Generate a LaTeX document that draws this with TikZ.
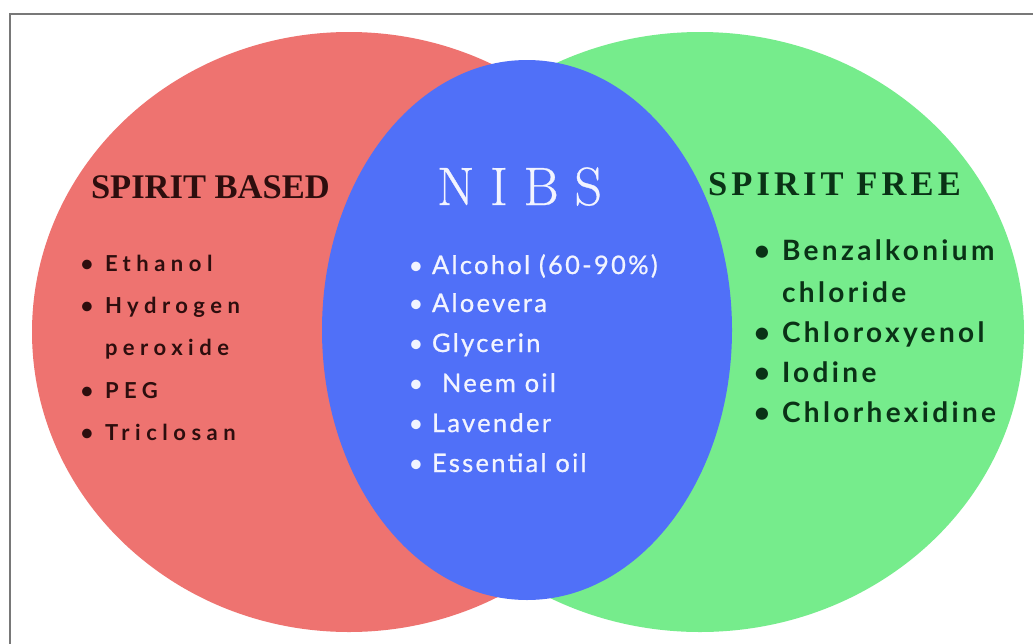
\documentclass[tikz,border=0pt]{standalone}
\usepackage{fontspec}
\newfontfamily\leftfont{Lato}[LetterSpace=25]
\newfontfamily\midfont{Lato}[LetterSpace=9,FakeBold=0.8]
\newfontfamily\rightfont{Lato}[LetterSpace=12]
\newfontfamily\bulletfont{Lato}
\newfontfamily\basedfont{Liberation Serif}[LetterSpace=0]
\newfontfamily\freefont{Liberation Serif}[LetterSpace=12]
\newfontfamily\nibsfont{Latin Modern Roman}[LetterSpace=29,FakeBold=0.6]
\definecolor{redc}{RGB}{238,115,112}
\definecolor{greenc}{RGB}{118,236,140}
\definecolor{bluec}{RGB}{80,112,248}
\definecolor{darkred}{RGB}{45,14,14}
\definecolor{darkgreen}{RGB}{10,50,22}
\definecolor{offwhite}{RGB}{242,244,255}
\definecolor{framegray}{RGB}{120,120,120}
\tikzset{
  lbl/.style={anchor=base west, inner sep=0pt, outer sep=0pt},
  bul/.style={anchor=base, inner sep=0pt, outer sep=0pt},
  litem/.style={lbl, font=\leftfont\bfseries\fontsize{22}{22}\selectfont, text=darkred},
  lbul/.style={bul, font=\bulletfont\bfseries\fontsize{22}{22}\selectfont, text=darkred},
  mitem/.style={lbl, font=\midfont\fontsize{25.5}{25.5}\selectfont, text=offwhite},
  mbul/.style={bul, font=\bulletfont\fontsize{25.5}{25.5}\selectfont, text=offwhite},
  ritem/.style={lbl, font=\rightfont\bfseries\fontsize{28}{28}\selectfont, text=darkgreen},
  rbul/.style={bul, font=\bulletfont\bfseries\fontsize{28}{28}\selectfont, text=darkgreen},
}
\begin{document}
\begin{tikzpicture}[x=1pt,y=-1pt]
\useasboundingbox (0,0) rectangle (1033,643);
\clip (0,0) rectangle (1033,643);
\fill[white] (0,0) rectangle (1033,643);
\draw[framegray, line width=2pt] (10,14) rectangle (1050,660);
\fill[redc] (349,332) ellipse [x radius=317, y radius=300];
\fill[greenc] (700,332) ellipse [x radius=324, y radius=300];
\fill[bluec] (527,330) ellipse [x radius=205, y radius=270];
% titles
\node[lbl, font=\basedfont\bfseries\fontsize{34.5}{34.5}\selectfont, text=darkred] (tb) at (91,198) {SPIRIT BASED};
\node[lbl, font=\nibsfont\fontsize{54}{54}\selectfont, text=offwhite] (tn) at (437,205) {NIBS};
\node[lbl, font=\freefont\bfseries\fontsize{34.5}{34.5}\selectfont, text=darkgreen] (tf) at (708,195) {SPIRIT FREE};
% left list
\node[lbul] (lb1) at (87,271) {\textbullet};
\node[litem] (l1) at (105,271) {Ethanol};
\node[lbul] (lb2) at (87,313) {\textbullet};
\node[litem] (l2) at (105,313) {Hydrogen};
\node[litem] (l3) at (105,355) {peroxide};
\node[lbul] (lb4) at (87,398) {\textbullet};
\node[litem] (l4) at (105,398) {PEG};
\node[lbul] (lb5) at (87,440) {\textbullet};
\node[litem] (l5) at (105,440) {Triclosan};
% middle list
\node[mbul] (mb1) at (416,274) {\textbullet};
\node[mitem] (m1) at (432,274) {Alcohol (60-90\%)};
\node[mbul] (mb2) at (416,312) {\textbullet};
\node[mitem] (m2) at (432,312) {Aloevera};
\node[mbul] (mb3) at (416,352) {\textbullet};
\node[mitem] (m3) at (432,352) {Glycerin};
\node[mbul] (mb4) at (416,392) {\textbullet};
\node[mitem] (m4) at (442,392) {Neem oil};
\node[mbul] (mb5) at (416,432) {\textbullet};
\node[mitem] (m5) at (432,432) {Lavender};
\node[mbul] (mb6) at (416,472) {\textbullet};
\node[mitem] (m6) at (432,472) {Essential oil};
% right list
\node[rbul] (rb1) at (762,260) {\textbullet};
\node[ritem] (r1) at (782,260) {Benzalkonium};
\node[ritem] (r2) at (782,302) {chloride};
\node[rbul] (rb3) at (762,342) {\textbullet};
\node[ritem] (r3) at (782,342) {Chloroxyenol};
\node[rbul] (rb4) at (762,382) {\textbullet};
\node[ritem] (r4) at (782,382) {Iodine};
\node[rbul] (rb5) at (762,422) {\textbullet};
\node[ritem] (r5) at (782,422) {Chlorhexidine};
\end{tikzpicture}
\end{document}
